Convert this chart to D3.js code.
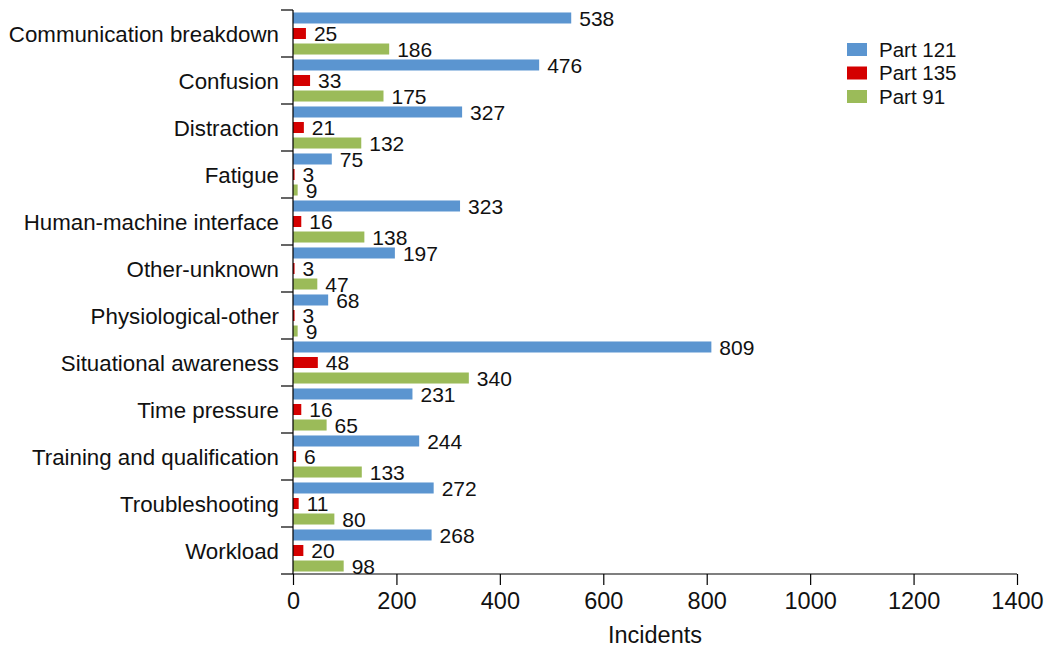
<!DOCTYPE html>
<html>
<head>
<meta charset="utf-8">
<script src="https://cdn.jsdelivr.net/npm/d3@7/dist/d3.min.js"></script>
<style>
  html, body { margin: 0; padding: 0; background: #fff; }
  svg { display: block; font-family: "Liberation Sans", Arial, sans-serif; }
</style>
</head>
<body>
<svg id="chart" width="1050" height="649"></svg>
<script>
const categories = ["Communication breakdown", "Confusion", "Distraction", "Fatigue",
  "Human-machine interface", "Other-unknown", "Physiological-other", "Situational awareness",
  "Time pressure", "Training and qualification", "Troubleshooting", "Workload"];
const seriesNames = ["Part 121", "Part 135", "Part 91"];
const part121 = [538, 476, 327, 75, 323, 197, 68, 809, 231, 244, 272, 268];
const part135 = [25, 33, 21, 3, 16, 3, 3, 48, 16, 6, 11, 20];
const part91 = [186, 175, 132, 9, 138, 47, 9, 340, 65, 133, 80, 98];
const xTicks = [0, 200, 400, 600, 800, 1000, 1200, 1400];
const colors = ["#5b95d0", "#d40000", "#9bbb59"];
const xTitle = "Incidents";

const seriesValues = [part121, part135, part91];

const svg = d3.select("#chart");
const mLeft = 293, mRight = 1017, mTop = 10, mBottom = 574;

const x = d3.scaleLinear().domain([0, 1400]).range([mLeft, mRight]);
const y = d3.scaleBand().domain(categories).range([mTop, mBottom]).padding(0);
const ySub = d3.scaleBand().domain(seriesNames).range([0, y.bandwidth()])
  .paddingInner(0.29).paddingOuter(0.16);

// bars
const groups = svg.append("g").selectAll("g").data(categories).join("g")
  .attr("transform", d => `translate(0,${y(d)})`);

groups.each(function(cat, i) {
  const g = d3.select(this);
  seriesNames.forEach((s, k) => {
    const v = seriesValues[k][i];
    g.append("rect")
      .attr("x", x(0))
      .attr("y", ySub(s))
      .attr("width", x(v) - x(0))
      .attr("height", ySub.bandwidth())
      .attr("fill", colors[k]);
    g.append("text")
      .attr("x", x(v) + 8)
      .attr("y", ySub(s) + ySub.bandwidth() / 2)
      .attr("dy", "0.37em")
      .attr("font-size", 21)
      .attr("fill", "#111")
      .text(v);
  });
});

// y axis
const yAxisG = svg.append("g");
yAxisG.append("line")
  .attr("x1", mLeft).attr("x2", mLeft).attr("y1", mTop).attr("y2", mBottom)
  .attr("stroke", "#000").attr("stroke-width", 1.2);
const bounds = categories.map(c => y(c)).concat([mBottom]);
yAxisG.selectAll("line.tick").data(bounds).join("line")
  .attr("class", "tick")
  .attr("x1", mLeft - 12).attr("x2", mLeft)
  .attr("y1", d => d).attr("y2", d => d)
  .attr("stroke", "#000").attr("stroke-width", 1.2);
yAxisG.selectAll("text").data(categories).join("text")
  .attr("x", mLeft - 14)
  .attr("y", d => y(d) + y.bandwidth() / 2)
  .attr("dy", "0.36em")
  .attr("text-anchor", "end")
  .attr("font-size", 22.3)
  .attr("fill", "#111")
  .text(d => d);

// x axis
const xAxis = d3.axisBottom(x).tickValues(xTicks).tickSize(11).tickPadding(7).tickFormat(d3.format("d"));
const xg = svg.append("g").attr("transform", `translate(0,${mBottom})`).call(xAxis);
xg.select(".domain").attr("stroke", "#000").attr("stroke-width", 1.2).attr("d", `M${mLeft},0H${mRight}`);
xg.selectAll(".tick line").attr("stroke", "#000").attr("stroke-width", 1.2);
xg.selectAll(".tick text").attr("font-size", 23.5).attr("fill", "#111")
  .attr("font-family", "Liberation Sans, Arial, sans-serif");

svg.append("text")
  .attr("x", (mLeft + mRight) / 2)
  .attr("y", 635)
  .attr("dy", "0.36em")
  .attr("text-anchor", "middle")
  .attr("font-size", 23.5)
  .attr("fill", "#111")
  .text(xTitle);

// legend
const legend = svg.append("g").attr("transform", "translate(847,43)");
seriesNames.forEach((s, k) => {
  legend.append("rect").attr("x", 0).attr("y", k * 23.5).attr("width", 20).attr("height", 13)
    .attr("fill", colors[k]);
  legend.append("text").attr("x", 32).attr("y", k * 23.5 + 6.5).attr("dy", "0.36em")
    .attr("font-size", 20.5).attr("fill", "#111").text(s);
});
</script>
</body>
</html>
